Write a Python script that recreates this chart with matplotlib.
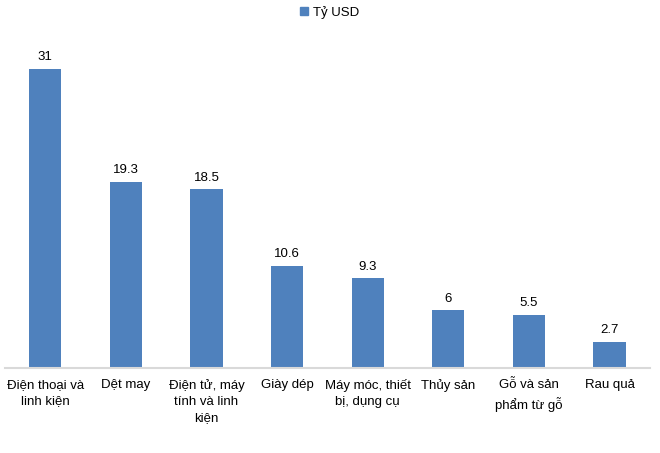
import matplotlib

matplotlib.use("Agg")

import matplotlib.pyplot as plt
from matplotlib.patches import Patch

plt.rcParams["font.family"] = ["Liberation Sans", "DejaVu Sans"]

categories = [
    "Điện thoại và\nlinh kiện",
    "Dệt may",
    "Điện tử, máy\ntính và linh\nkiện",
    "Giày dép",
    "Máy móc, thiết\nbị, dụng cụ",
    "Thủy sản",
    "Gỗ và sản\nphẩm từ gỗ",
    "Rau quả",
]
values = [31, 19.3, 18.5, 10.6, 9.3, 6, 5.5, 2.7]
labels = ["31", "19.3", "18.5", "10.6", "9.3", "6", "5.5", "2.7"]

color = "#4F81BD"

fig = plt.figure(figsize=(6.6, 4.53), dpi=100)
ax = fig.add_axes([0.0076, 0.1876, 0.977, 0.746])

x = range(len(categories))
bars = ax.bar(x, values, width=0.4, color=color)
for b, lab in zip(bars, labels):
    ax.annotate(lab, (b.get_x() + b.get_width() / 2, b.get_height()),
                xytext=(0, 4), textcoords="offset points",
                ha="center", va="bottom", fontsize=9.5)

ax.set_xlim(-0.5, len(categories) - 0.5)
ax.set_ylim(0, 35)
ax.set_xticks(list(x))
ax.set_xticklabels(categories, fontsize=9.5, linespacing=1.45, va="top")
ax.tick_params(axis="x", length=0, pad=8)
ax.set_yticks([])
for s in ["top", "right", "left"]:
    ax.spines[s].set_visible(False)
ax.spines["bottom"].set_color("#D9D9D9")
ax.spines["bottom"].set_linewidth(1.5)

fig.legend(handles=[Patch(color=color, label="Tỷ USD")], loc="center",
           bbox_to_anchor=(0.5, 0.973), frameon=False, fontsize=9.5,
           handlelength=0.6, handleheight=0.6, handletextpad=0.4)

fig.savefig("out.png", dpi=100)
plt.close("all")
